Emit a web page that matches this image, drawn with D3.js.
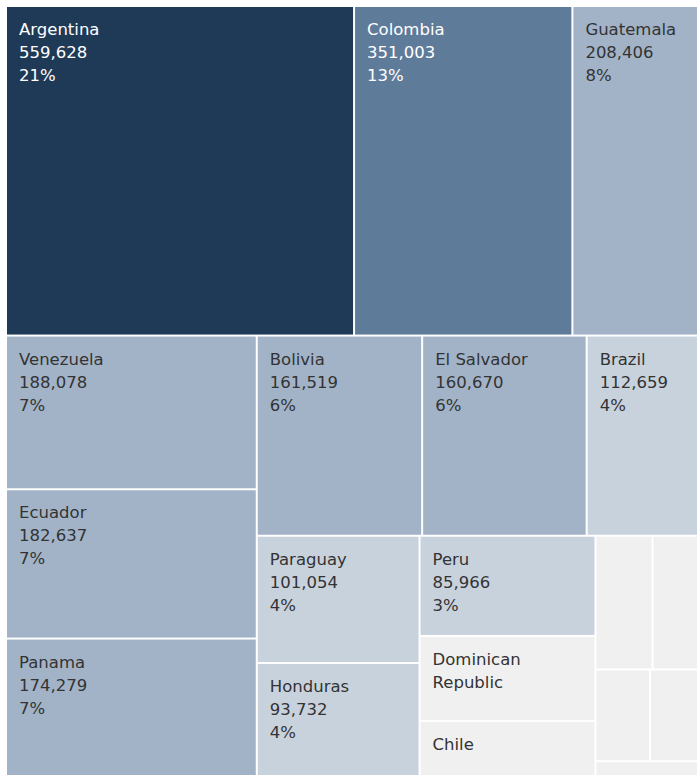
<!DOCTYPE html>
<html>
<head>
<meta charset="utf-8">
<script src="https://cdn.jsdelivr.net/npm/d3@7"></script>
<style>
  body { margin: 0; background: #fff; }
  svg { display: block; }
</style>
</head>
<body>
<div id="chart"></div>
<script>
// values (the last five cells carry no label)
const countries = ["Argentina", "Colombia", "Guatemala", "Venezuela", "Ecuador", "Panama",
  "Bolivia", "El Salvador", "Brazil", "Paraguay", "Honduras", "Peru", "Dominican Republic",
  "Chile", "Costa Rica", "Uruguay", "Nicaragua", "Cuba", "Puerto Rico"]
const totals = [559628, 351003, 208406, 188078, 182637, 174279,
  161519, 160670, 112659, 101054, 93732, 85966, 73100,
  51400, 37200, 32300, 24400, 23300, 10300]

const colorSteps = [80000, 150000, 300000, 450000]
const colorRange = ["#f0f0f0", "#c8d2dd", "#a2b3c8", "#5f7b9a", "#1f3a57"]

const width = 697
const height = 775
// the chart runs a little past the window on the right and bottom
const chartW = 694
const chartH = 773

const color = d3.scaleThreshold().domain(colorSteps).range(colorRange)
const fmtNum = d3.format(",")
const fmtPct = d3.format(".0%")

const data = {
  name: "root",
  children: countries.map((name, i) => ({name, value: totals[i]}))
}

const root = d3.hierarchy(data)
  .sum(d => d.value || 0)
  .sort((a, b) => b.value - a.value)

d3.treemap()
  .tile(d3.treemapSquarify.ratio(1.85))
  .size([chartW, chartH])
  .paddingInner(2)(root)

const total = root.value

const svg = d3.select("#chart").append("svg")
  .attr("width", width)
  .attr("height", height)
  .attr("font-family", "'DejaVu Sans', sans-serif")
  .attr("font-size", 16.5)

const g = svg.append("g").attr("transform", "translate(7,7)")

const cell = g.selectAll("g.cell")
  .data(root.leaves())
  .join("g")
  .attr("class", "cell")
  .attr("transform", d => `translate(${d.x0},${d.y0})`)

cell.append("rect")
  .attr("width", d => d.x1 - d.x0)
  .attr("height", d => d.y1 - d.y0)
  .attr("fill", d => color(d.value))

// measure text so labels can wrap / hide like the original
const probe = svg.append("text").attr("visibility", "hidden")
function textWidth(s) {
  probe.text(s)
  return probe.node().getComputedTextLength()
}

const padX = 12
const firstLine = 28
const lineH = 23

cell.each(function (d) {
  const w = d.x1 - d.x0
  const h = d.y1 - d.y0
  // wrap the name by words if it is wider than the cell
  let nameLines = [d.data.name]
  if (textWidth(d.data.name) > w - padX * 2) {
    nameLines = []
    let line = ""
    d.data.name.split(" ").forEach(word => {
      const test = line ? line + " " + word : word
      if (line && textWidth(test) > w - padX * 2) {
        nameLines.push(line)
        line = word
      } else {
        line = test
      }
    })
    nameLines.push(line)
  }
  const full = nameLines.concat([fmtNum(d.value), fmtPct(d.value / total)])

  const fits = lines => {
    const needH = firstLine + (lines.length - 1) * lineH + 6
    const needW = d3.max(lines, textWidth) + padX
    return needH <= h && needW <= w
  }

  let lines = []
  if (fits(full)) lines = full
  else if (fits(nameLines)) lines = nameLines

  const dark = d.value >= colorSteps[2]
  d3.select(this).append("text")
    .attr("fill", dark ? "#ffffff" : "#333333")
    .selectAll("tspan")
    .data(lines)
    .join("tspan")
    .attr("x", padX)
    .attr("y", (t, i) => firstLine + i * lineH)
    .text(t => t)
})

probe.remove()
</script>
</body>
</html>
